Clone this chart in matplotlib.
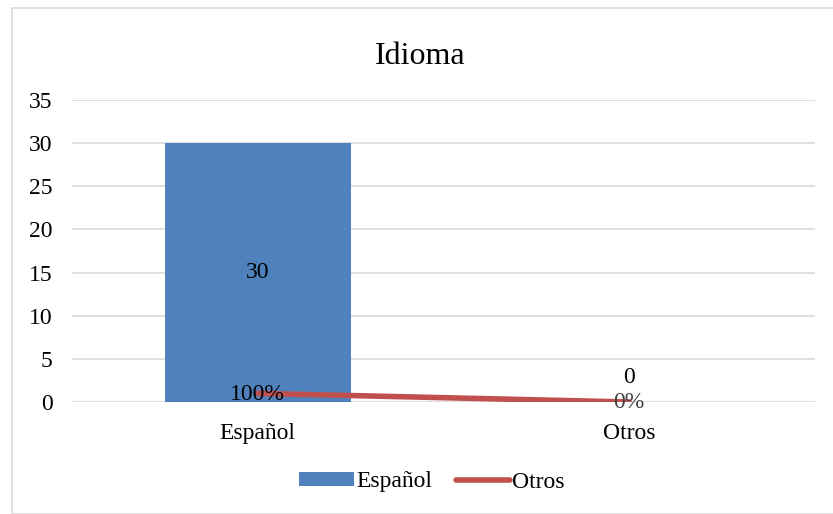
import matplotlib.pyplot as plt
from matplotlib.patches import Rectangle

categories = ["Español", "Otros"]
espanol_vals = [30, 0]
otros_vals = [1, 0]
otros_pct = ["100%", "0%"]

plt.rcParams["font.family"] = ["Liberation Serif", "DejaVu Serif"]

fig = plt.figure(figsize=(8.33, 5.14), dpi=100)
fig.patches.append(Rectangle((12 / 833, 0), 1, 1 - 8 / 514, transform=fig.transFigure,
                             fill=False, edgecolor="#D9D9D9", linewidth=1.2))

ax = fig.add_axes([72 / 833, 1 - 402 / 514, (815 - 72) / 833, (402 - 100) / 514])

x = list(range(len(categories)))
bar = ax.bar(x, espanol_vals, width=0.5, color="#4F81BD", label="Español", zorder=2)
line, = ax.plot(x, otros_vals, color="#C0504D", linewidth=4, solid_capstyle="round",
                label="Otros", zorder=3)

# etiquetas de datos
fs = 17
ax.text(x[0], espanol_vals[0] / 2, str(espanol_vals[0]), ha="center", va="center", fontsize=fs)
ax.text(x[1], espanol_vals[1] + 2.8, str(espanol_vals[1]), ha="center", va="center", fontsize=fs)
ax.text(x[0], otros_vals[0] - 0.1, otros_pct[0], ha="center", va="center", fontsize=fs, zorder=4)
ax.text(x[1], otros_vals[1] - 0.1, otros_pct[1], ha="center", va="center", fontsize=fs,
        color="#404040", zorder=4)

ax.set_xlim(-0.5, 1.5)
ax.set_ylim(0, 35)
ax.set_yticks(range(0, 36, 5))
ax.set_xticks(x)
ax.set_xticklabels(categories)
ax.yaxis.grid(True, color="#D9D9D9", linewidth=1.2, zorder=0)
ax.set_axisbelow(True)
for s in ax.spines.values():
    s.set_visible(False)
ax.tick_params(axis="both", length=0, labelsize=fs)
ax.tick_params(axis="y", pad=14)
ax.tick_params(axis="x", pad=15)

fig.text(420 / 833, 1 - 56 / 514, "Idioma", ha="center", va="center", fontsize=23)

fig.legend([bar, line], ["Español", "Otros"], loc="center",
           bbox_to_anchor=(432 / 833, 1 - 482 / 514),
           ncol=2, frameon=False, fontsize=fs, handlelength=2.3, handleheight=0.5,
           handletextpad=0.1, columnspacing=1.0)

fig.savefig("out.png", dpi=100)
